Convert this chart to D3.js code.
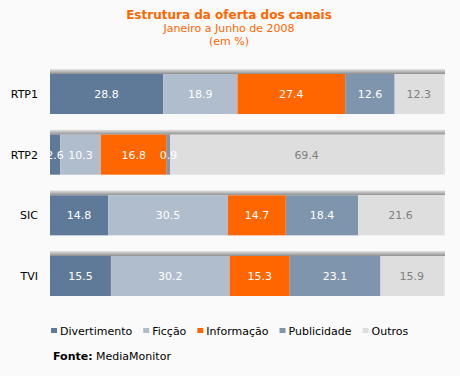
<!DOCTYPE html>
<html>
<head>
<meta charset="utf-8">
<script src="https://cdn.jsdelivr.net/npm/d3@7"></script>
<style>
  body { margin: 0; background: #fafafa; }
  svg { display: block; font-family: "DejaVu Sans", Verdana, sans-serif; }
</style>
</head>
<body>
<div id="chart"></div>
<script>
// dados
const canais = ["RTP1", "RTP2", "SIC", "TVI"];
const generos = ["Divertimento", "Ficção", "Informação", "Publicidade", "Outros"];
const divertimento = [28.8, 2.6, 14.8, 15.5];
const ficcao = [18.9, 10.3, 30.5, 30.2];
const informacao = [27.4, 16.8, 14.7, 15.3];
const publicidade = [12.6, 0.9, 18.4, 23.1];
const outros = [12.3, 69.4, 21.6, 15.9];
const series = [divertimento, ficcao, informacao, publicidade, outros];

const cores = ["#5f7a98", "#b0bdcd", "#ff6600", "#7f95ad", "#dedede"];
const corTexto = ["#fff", "#fff", "#fff", "#fff", "#808080"];

const width = 460, height = 376;

const svg = d3.select("#chart").append("svg")
  .attr("width", width).attr("height", height);

svg.append("rect").attr("width", width).attr("height", height).attr("fill", "#fafafa");

const defs = svg.append("defs");
const grad = defs.append("linearGradient")
  .attr("id", "sombra").attr("x1", 0).attr("y1", 0).attr("x2", 0).attr("y2", 1);
grad.append("stop").attr("offset", "0%").attr("stop-color", "#e6e6e6");
grad.append("stop").attr("offset", "100%").attr("stop-color", "#8c8c8c");

// titulo
const titulo = svg.append("g").attr("fill", "#ff6600").attr("text-anchor", "middle");
titulo.append("text").attr("x", 229).attr("y", 19)
  .attr("font-size", 12).attr("font-weight", "bold")
  .text("Estrutura da oferta dos canais");
titulo.append("text").attr("x", 229).attr("y", 32)
  .attr("font-size", 11).text("Janeiro a Junho de 2008");
titulo.append("text").attr("x", 229).attr("y", 45)
  .attr("font-size", 11).text("(em %)");

const x = d3.scaleLinear().domain([0, 100]).range([50, 443]);
const y = d3.scaleBand().domain(canais).range([74, 296]).paddingInner(0.34);

// os valores nao passam para a esquerda do inicio da barra
defs.append("clipPath").attr("id", "corte")
  .append("rect").attr("x", x(0)).attr("y", 0)
  .attr("width", width - x(0)).attr("height", height);

// empilhar
const linhas = canais.map((c, i) => {
  let acc = 0;
  return series.map((s, k) => {
    const d = { canal: c, k, v: s[i], x0: acc, x1: acc + s[i] };
    acc += s[i];
    return d;
  });
});

const grupos = svg.selectAll(".linha").data(linhas).enter()
  .append("g").attr("class", "linha");

// sombra por cima da barra
grupos.append("rect")
  .attr("x", x(0))
  .attr("y", (d) => y(d[0].canal) - 5)
  .attr("width", x(100) - x(0) + 2)
  .attr("height", 5)
  .attr("fill", "url(#sombra)");

grupos.append("rect")
  .attr("x", x(100))
  .attr("y", (d) => y(d[0].canal))
  .attr("width", 2)
  .attr("height", y.bandwidth())
  .attr("fill", "#e4e4e4");

grupos.selectAll(".seg").data((d) => d).enter()
  .append("rect")
  .attr("class", "seg")
  .attr("x", (d) => x(d.x0))
  .attr("y", (d) => y(d.canal))
  .attr("width", (d) => x(d.x1) - x(d.x0))
  .attr("height", y.bandwidth())
  .attr("fill", (d) => cores[d.k]);

grupos.append("g").attr("clip-path", "url(#corte)")
  .selectAll(".valor").data((d) => d).enter()
  .append("text")
  .attr("class", "valor")
  .attr("x", (d) => (x(d.x0) + x(d.x1)) / 2)
  .attr("y", (d) => y(d.canal) + y.bandwidth() / 2 + 4)
  .attr("text-anchor", "middle")
  .attr("font-size", 11)
  .attr("fill", (d) => corTexto[d.k])
  .text((d) => d.v.toFixed(1));

// nomes dos canais
svg.selectAll(".canal").data(canais).enter()
  .append("text")
  .attr("x", 38)
  .attr("y", (d) => y(d) + y.bandwidth() / 2 + 4)
  .attr("text-anchor", "end")
  .attr("font-size", 11)
  .attr("fill", "#000")
  .text((d) => d);

// legenda
const legenda = svg.append("g");
let lx = 51;
generos.forEach((g, k) => {
  legenda.append("rect").attr("x", lx).attr("y", 328)
    .attr("width", 6).attr("height", 5).attr("fill", cores[k]);
  const t = legenda.append("text").attr("x", lx + 9).attr("y", 335)
    .attr("font-size", 11).attr("fill", "#000").text(g);
  lx += 9 + t.node().getComputedTextLength() + 11;
});

const fonte = svg.append("text").attr("x", 53).attr("y", 360).attr("font-size", 11);
fonte.append("tspan").attr("font-weight", "bold").text("Fonte:");
fonte.append("tspan").text(" MediaMonitor");
</script>
</body>
</html>
